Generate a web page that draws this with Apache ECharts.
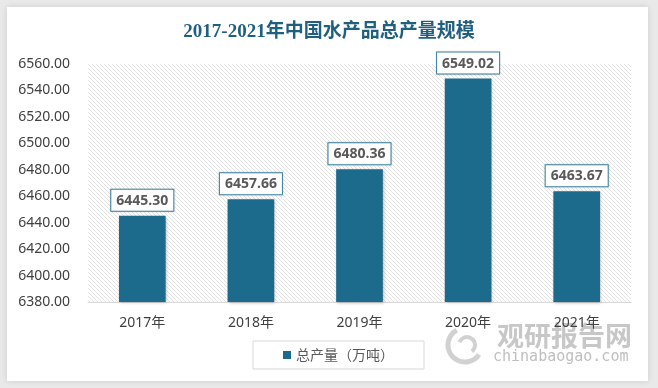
<!DOCTYPE html>
<html>
<head>
<meta charset="utf-8">
<script src="https://cdn.jsdelivr.net/npm/echarts@6/dist/echarts.min.js"></script>
<style>
html,body{margin:0;padding:0;background:#e9e9e9;}
#card{position:absolute;left:7px;top:7px;width:641px;height:374px;background:#fff;box-shadow:0 0 6px rgba(0,0,0,0.12);}
#chart{position:absolute;left:0;top:0;width:658px;height:388px;}
</style>
</head>
<body>
<div id="card"></div>
<div id="chart"></div>
<script>
const titleText = '2017-2021年中国水产品总产量规模';
const categories = ['2017年', '2018年', '2019年', '2020年', '2021年'];
const seriesName = '总产量（万吨）';
const values = [6445.30, 6457.66, 6480.36, 6549.02, 6463.67];
const yMin = 6380, yMax = 6560, yStep = 20;

const tile = document.createElement('canvas');
tile.width = 4; tile.height = 4;
const g = tile.getContext('2d');
g.fillStyle = '#ffffff'; g.fillRect(0, 0, 4, 4);
g.strokeStyle = '#e3e3e3'; g.lineWidth = 1;
g.beginPath();
g.moveTo(-1, -1); g.lineTo(5, 5);
g.moveTo(-1, 3); g.lineTo(1, 5);
g.moveTo(3, -1); g.lineTo(5, 1);
g.stroke();

const chart = echarts.init(document.getElementById('chart'), null, {renderer: 'canvas'});
chart.setOption({
  backgroundColor: 'transparent',
  animation: false,
  title: {
    text: titleText, left: 'center', top: 18,
    textStyle: {fontFamily: '"Liberation Serif", "Noto Sans CJK SC", serif', fontSize: 19, fontWeight: 'bold', color: '#1f5f80'}
  },
  grid: {left: 88, right: 27, top: 64, bottom: 86, show: true, borderWidth: 0,
    backgroundColor: {image: tile, repeat: 'repeat'}},
  legend: {
    data: [seriesName], left: 253, top: 341,
    itemWidth: 8, itemHeight: 8, icon: 'rect', itemGap: 6,
    borderColor: '#d9d9d9', borderWidth: 1, padding: [7, 30, 7, 30],
    textStyle: {fontSize: 14, color: '#595959', fontFamily: '"Noto Sans CJK SC", sans-serif'}
  },
  xAxis: {
    type: 'category', data: categories,
    axisLine: {lineStyle: {color: '#d9d9d9'}},
    axisTick: {show: false},
    axisLabel: {fontSize: 14, color: '#404040', margin: 14, fontFamily: '"Noto Sans", "Noto Sans CJK SC", sans-serif'}
  },
  yAxis: {
    type: 'value', min: yMin, max: yMax, interval: yStep,
    axisLine: {show: false}, axisTick: {show: false}, splitLine: {show: false},
    axisLabel: {fontSize: 14, color: '#404040', margin: 18, fontFamily: '"Noto Sans", sans-serif',
      formatter: v => v.toFixed(2)}
  },
  series: [{
    name: seriesName, type: 'bar', data: values, barWidth: '43%',
    itemStyle: {color: '#1c6a8c', shadowColor: 'rgba(0,0,0,0.25)', shadowBlur: 3, shadowOffsetX: 1, shadowOffsetY: 1},
    label: {
      show: true, position: 'top', distance: 5,
      formatter: p => p.value.toFixed(2),
      backgroundColor: '#fff', borderColor: '#3a86a8', borderWidth: 1, padding: [4, 5, 3, 5],
      fontSize: 14, fontWeight: 'bold', color: '#595959', fontFamily: '"Open Sans", sans-serif',
      shadowColor: 'rgba(0,0,0,0.15)', shadowBlur: 2
    }
  }],
  graphic: [
    {type: 'text', left: 497, top: 322, style: {text: '观研报告网', fontSize: 27, fontWeight: 'bold', fill: 'rgba(180,180,180,0.75)', fontFamily: '"Noto Sans CJK SC", sans-serif'}},
    {type: 'text', left: 493, top: 350, style: {text: 'chinabaogao.com', fontSize: 15, fill: 'rgba(170,170,170,0.75)', fontFamily: '"DejaVu Sans Mono", monospace'}},
    {type: 'arc', shape: {cx: 465, cy: 345, r: 17, startAngle: 0.6, endAngle: 4.2}, style: {stroke: 'rgba(190,190,190,0.7)', lineWidth: 5, fill: null}},
    {type: 'arc', shape: {cx: 467, cy: 345, r: 8, startAngle: 3.5, endAngle: 7.2}, style: {stroke: 'rgba(190,190,190,0.7)', lineWidth: 4, fill: null}}
  ]
});
</script>
</body>
</html>
